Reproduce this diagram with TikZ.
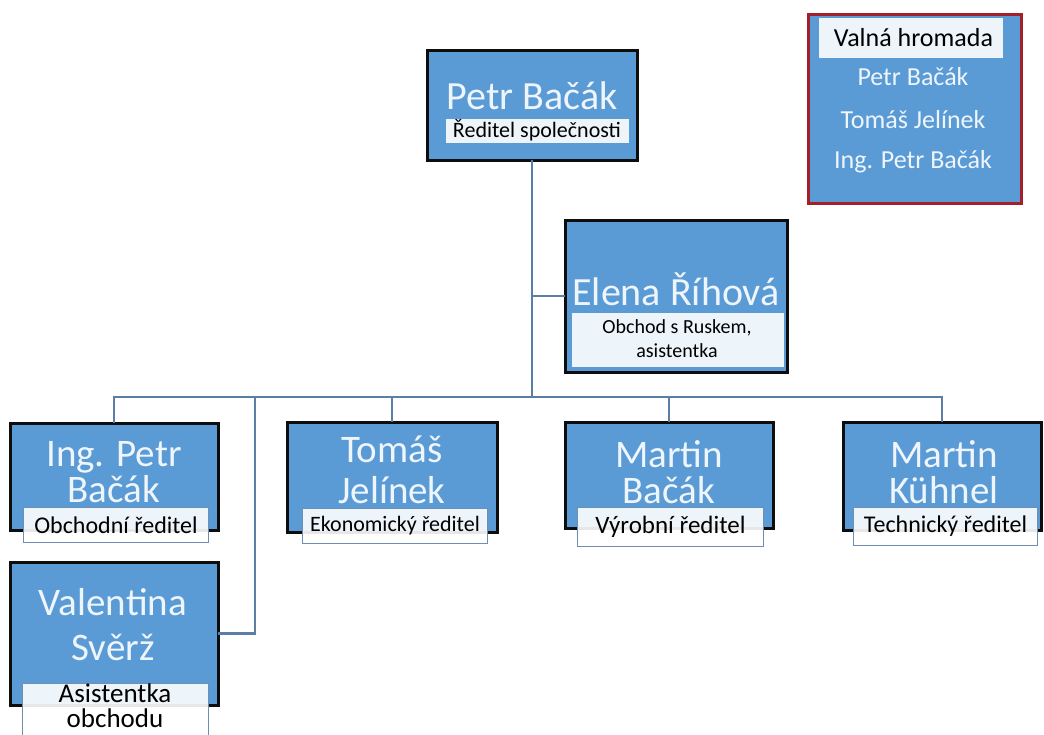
\documentclass[tikz,border=0pt]{standalone}
\usepackage{fontspec}
\setmainfont{Carlito}
\definecolor{boxblue}{HTML}{5B9BD5}
\definecolor{namecol}{HTML}{EEF5FC}
\definecolor{conncol}{HTML}{5A7EA4}
\definecolor{subedge}{HTML}{6E8FB3}
\definecolor{redge}{HTML}{A3202B}
\begin{document}
\begin{tikzpicture}[x=1pt,y=-1pt,
  person/.style={draw=black!95, line width=3pt, fill=boxblue, anchor=north west, inner sep=0pt, outer sep=0pt},
  pname/.style={text=namecol, anchor=base, inner sep=0pt},
  sub/.style={draw=subedge, line width=1pt, fill=white, fill opacity=0.9, text opacity=1, text=black, anchor=north west, inner sep=0pt, align=center},
  subtext/.style={text=black, anchor=base, inner sep=0pt},
  conn/.style={draw=conncol, line width=2.8pt}]
\useasboundingbox (0,0) rectangle (1044,734);
\fill[white] (0,0) rectangle (1044,734);

\coordinate (busL) at (115,397);

% top
\node[person, minimum width=210pt, minimum height=110pt] (top) at (427,50) {};
\node[pname, font=\fontsize{40}{48}\selectfont] (topn) at (532,109) {Petr Bačák};
\node[sub, draw=none, minimum width=183pt, minimum height=24pt, font=\fontsize{22}{26}\selectfont] (tops) at (445,118) {Ředitel společnosti};

% Elena
\node[person, minimum width=222pt, minimum height=152pt] (er) at (565,220) {};
\node[pname, font=\fontsize{40}{48}\selectfont] (ern) at (676,305) {Elena Říhová};
\node[sub, draw=none, minimum width=212pt, minimum height=54pt] (ers) at (571,312) {};
\node[subtext, font=\fontsize{20}{24}\selectfont] (ers1) at (677,333) {Obchod s Ruskem,};
\node[subtext, font=\fontsize{20}{24}\selectfont] (ers2) at (677,357) {asistentka};

% bottom row
\node[person, minimum width=208pt, minimum height=107pt] (ip) at (10,423) {};
\node[pname, font=\fontsize{39}{47}\selectfont] (ipn1) at (114,466) {Ing. Petr};
\node[pname, font=\fontsize{39}{47}\selectfont] (ipn2) at (114,502) {Bačák};
\node[sub, minimum width=185pt, minimum height=35pt, font=\fontsize{24}{28}\selectfont] (ips) at (23,507) {Obchodní ředitel};

\node[person, minimum width=210pt, minimum height=110pt] (tj) at (287,422) {};
\node[pname, font=\fontsize{39}{47}\selectfont] (tjn1) at (392,462) {Tomáš};
\node[pname, font=\fontsize{39}{47}\selectfont] (tjn2) at (392,503) {Jelínek};
\node[sub, minimum width=185pt, minimum height=35pt, font=\fontsize{22}{26}\selectfont] (tjs) at (302,508) {Ekonomický ředitel};

\node[person, minimum width=208pt, minimum height=106pt] (mb) at (565,422) {};
\node[pname, font=\fontsize{39}{47}\selectfont] (mbn1) at (669,467) {Martin};
\node[pname, font=\fontsize{39}{47}\selectfont] (mbn2) at (669,503) {Bačák};
\node[sub, minimum width=186pt, minimum height=39pt, font=\fontsize{25}{29}\selectfont] (mbs) at (577,507) {Výrobní ředitel};

\node[person, minimum width=198pt, minimum height=108pt] (mk) at (843,422) {};
\node[pname, font=\fontsize{39}{47}\selectfont] (mkn1) at (944,467) {Martin};
\node[pname, font=\fontsize{39}{47}\selectfont] (mkn2) at (944,503) {Kühnel};
\node[sub, minimum width=184pt, minimum height=38pt, font=\fontsize{24}{28}\selectfont] (mks) at (853,507) {Technický ředitel};

% Valentina
\node[person, minimum width=208pt, minimum height=143pt] (vs) at (10,562) {};
\node[pname, font=\fontsize{39}{47}\selectfont] (vsn1) at (113,615) {Valentina};
\node[pname, font=\fontsize{39}{47}\selectfont] (vsn2) at (113,660) {Svěrž};
\node[sub, minimum width=186pt, minimum height=64pt] (vss) at (22,683) {};
\node[subtext, font=\fontsize{27}{28}\selectfont] (vss1) at (115,702) {Asistentka};
\node[subtext, font=\fontsize{27}{28}\selectfont] (vss2) at (115,727) {obchodu};

% Valna hromada
\node[draw=redge, line width=3pt, fill=boxblue, anchor=north west, minimum width=213pt, minimum height=189pt, inner sep=0pt] (vh) at (807,13) {};
\node[sub, draw=none, minimum width=184pt, minimum height=40pt, font=\fontsize{26}{30}\selectfont] (vhh) at (818,17) {\hspace*{6pt}Valná hromada};
\node[pname, font=\fontsize{26}{30}\selectfont] (vh1) at (913,85) {Petr Bačák};
\node[pname, font=\fontsize{26}{30}\selectfont] (vh2) at (913,128) {Tomáš Jelínek};
\node[pname, font=\fontsize{26}{30}\selectfont] (vh3) at (913,168) {Ing. Petr Bačák};

% connectors
\draw[conn] (top.south) -- (top.south |- busL);
\draw[conn] (er.west) -- (er.west -| top.south);
\draw[conn] (ip.north) -- (ip.north |- busL) -- (mk.north |- busL) -- (mk.north);
\draw[conn] (tj.north) -- (tj.north |- busL);
\draw[conn] (mb.north) -- (mb.north |- busL);
\coordinate (vtap) at (255,397);
\draw[conn] (vtap) |- (vs.east);
\end{tikzpicture}
\end{document}
